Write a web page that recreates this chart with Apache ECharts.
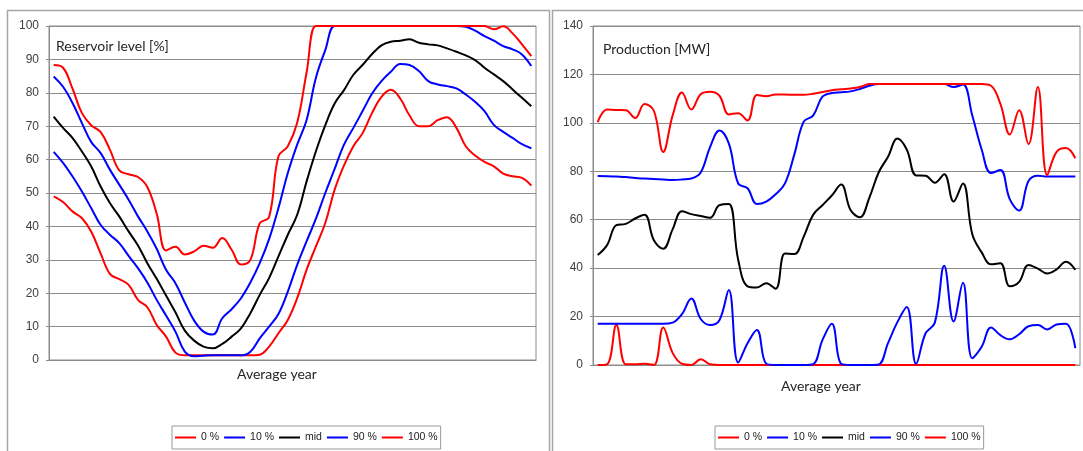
<!DOCTYPE html>
<html>
<head>
<meta charset="utf-8">
<script src="https://cdn.jsdelivr.net/npm/echarts@6/dist/echarts.min.js"></script>
<style>
  html, body { margin: 0; padding: 0; background: #ffffff; }
  #chart { width: 1083px; height: 451px; }
</style>
</head>
<body>
<div id="chart"></div>
<script>
// Weeks of the average year (category axis, labels hidden)
const weeks = Array.from({ length: 52 }, (_, i) => 'W' + (i + 1));

const seriesNames = ['0 %', '10 %', 'mid', '90 %', '100 %'];
const seriesColors = ['#ff0000', '#0000ff', '#000000', '#0000ff', '#ff0000'];

// Reservoir level [%] per week
const level0 = [49, 47.3, 44.5, 42.5, 38.5, 32, 25.8, 24.2, 22.5, 18,
  15.8, 10.5, 7, 2.2, 1.4, 1.4, 1.4, 1.4, 1.4, 1.4,
  1.4, 1.4, 1.6, 4, 8, 12, 18.5, 27, 34, 41,
  51, 58.3, 64, 68, 74, 78.8, 80.9, 78.3, 73.2, 70,
  70, 71.8, 72.7, 69.5, 64, 61.2, 59.3, 58, 55.8, 55,
  54.5, 52.2];
const level10 = [62.3, 59, 55, 50.5, 45.5, 40.5, 37.5, 35, 31.2, 27.5,
  23.2, 18, 13.3, 8.5, 2.5, 1.1, 1.3, 1.4, 1.4, 1.4,
  1.4, 2.5, 6.5, 10, 13.8, 20.5, 28.5, 35.5, 42.3, 50,
  57.2, 64.5, 69.5, 74.6, 79.8, 83.5, 86.3, 88.6, 88.3, 86.5,
  83.5, 82.5, 82, 81.3, 79.5, 77.3, 74.5, 70.4, 68.3, 66.5,
  64.6, 63.4];
const levelMid = [72.9, 69.5, 66.5, 62.5, 58, 52, 47, 43, 38.5, 34.3,
  29, 24.3, 19.3, 14.3, 8.8, 5.8, 4, 3.5, 4.8, 7,
  9.5, 14, 19.5, 24.5, 31, 37.5, 43.5, 53.4, 62.5, 70.3,
  76.8, 80.8, 85.4, 88.4, 91.6, 94.2, 95.3, 95.6, 96, 95,
  94.5, 94.2, 93.3, 92.3, 91.2, 89.8, 87.5, 85.5, 83.5, 81,
  78.5, 76];
const level90 = [84.9, 81.8, 77, 71, 65.3, 62, 57, 52.5, 48, 43,
  38.5, 33.3, 27, 23, 17.2, 11.8, 8.5, 7.6, 12.5, 15.2,
  18.5, 23.2, 29, 36.2, 45.5, 56, 64.5, 71.8, 84.5, 92.8,
  100, 100, 100, 100, 100, 100, 100, 100, 100, 100,
  100, 100, 100, 100, 99.8, 98.6, 97, 95.6, 94, 93,
  91.5, 88];
const level100 = [88.3, 87.5, 81.3, 74, 70.3, 68.3, 63, 56.8, 55.6, 54.8,
  51.8, 43.8, 32.8, 33.9, 31.6, 32.5, 34.2, 33.6, 36.5, 33,
  28.6, 30, 40.9, 42.8, 61, 64, 71, 86, 100, 100,
  100, 100, 100, 100, 100, 100, 100, 100, 100, 100,
  100, 100, 100, 100, 100, 100, 100, 99, 99.9, 97.8,
  94.5, 91];

// Production [MW] per week
const prod0 = [0, 0.3, 16.5, 0.3, 0.3, 0.5, 0, 15.5, 5, 0.5,
  0, 2.4, 0.3, 0, 0, 0, 0, 0, 0, 0,
  0, 0, 0, 0, 0, 0, 0, 0, 0, 0,
  0, 0, 0, 0, 0, 0, 0, 0, 0, 0,
  0, 0, 0, 0, 0, 0, 0, 0, 0, 0,
  0, 0];
const prod10 = [17, 17, 17, 17, 17, 17, 17, 17, 17.5, 21,
  27.5, 19, 16.5, 18.5, 31, 1, 9, 14.5, 0.5, 0,
  0, 0, 0, 0.3, 10.3, 17, 0.5, 0, 0, 0,
  0.2, 9, 17.7, 24, 0.5, 13, 17.5, 41, 18, 34,
  2.8, 7.5, 15.5, 12.3, 10.6, 12.7, 16, 16.5, 14.7, 16.7,
  17, 7];
const prodMid = [45.4, 49.5, 57.8, 58.3, 60.5, 62, 51.5, 48, 56, 63.5,
  62.3, 61.5, 60.8, 66, 66.5, 43.5, 32.5, 32, 33.8, 31.5,
  46, 45.8, 53, 62, 66, 70, 74.5, 64, 61, 69,
  79.5, 86, 93.5, 89, 78.3, 78.2, 75.3, 78.8, 67.5, 75,
  54, 46.5, 41.6, 42, 32.5, 34.3, 41.3, 39.8, 37.8, 39.5,
  42.6, 39.3];
const prod90 = [78.1, 78, 77.8, 77.6, 77.2, 77, 76.8, 76.6, 76.4, 76.6,
  77, 79.5, 90, 96.8, 91.5, 75, 73, 66.5, 67.5, 70.5,
  75, 87, 100.5, 103, 110.8, 112.3, 112.6, 113, 114, 115.3,
  116, 116, 116, 116, 116, 116, 116, 116, 114.8, 115.8,
  103, 89, 79.3, 80.5, 68.5, 63.8, 76, 78.2, 77.8, 77.8,
  77.8, 77.8];
const prod100 = [100.3, 105.5, 105.3, 105.2, 102, 107.8, 105, 88, 103, 112.5,
  105.5, 111.8, 112.8, 111.2, 103.5, 104, 101, 111.5, 111, 111.7,
  111.7, 111.6, 111.6, 112, 112.7, 113.5, 113.9, 114.2, 114.8, 116,
  116, 116, 116, 116, 116, 116, 116, 116, 116, 116,
  116, 116, 115.3, 107.8, 95.2, 105.2, 91.2, 114.8, 78.5, 88,
  89.6, 85.4];

// Value axes
const levelMax = 100, levelStep = 10;
const prodMax = 140, prodStep = 20;

const levelData = [level0, level10, levelMid, level90, level100];
const prodData = [prod0, prod10, prodMid, prod90, prod100];

const gridLine = '#8c8c8c';
const labelFont = '"Liberation Sans", Arial, sans-serif';
const textFont = 'Lato, "Liberation Sans", sans-serif';

function makeSeries(panel, dataSets) {
  return dataSets.map((d, k) => ({
    name: seriesNames[k],
    type: 'line',
    xAxisIndex: panel,
    yAxisIndex: panel,
    data: d,
    smooth: 0.4,
    symbol: 'none',
    showSymbol: false,
    lineStyle: { width: 2, color: seriesColors[k] },
    itemStyle: { color: seriesColors[k] },
    emphasis: { disabled: true }
  }));
}

function makeYAxis(panel, max, step) {
  return {
    type: 'value', gridIndex: panel, min: 0, max: max, interval: step,
    axisLine: { show: true, lineStyle: { color: gridLine, width: 1 } },
    axisTick: { show: true, length: 3, lineStyle: { color: gridLine } },
    axisLabel: { margin: 10, color: '#404040', fontSize: 12, fontFamily: labelFont },
    splitLine: { show: true, lineStyle: { color: gridLine, width: 1 } }
  };
}

function makeXAxis(panel) {
  return {
    type: 'category', gridIndex: panel, data: weeks, boundaryGap: true,
    axisLine: { show: true, lineStyle: { color: gridLine, width: 1 } },
    axisTick: { show: false }, axisLabel: { show: false }, splitLine: { show: false }
  };
}

function makeLegend(left) {
  return {
    data: seriesNames, left: left, top: 426, orient: 'horizontal',
    icon: 'rect', itemWidth: 21, itemHeight: 2, itemGap: 5,
    padding: [6, 3, 6, 3], borderColor: '#999999', borderWidth: 1,
    selectedMode: false,
    textStyle: { fontSize: 10.5, fontFamily: labelFont, color: '#222222' }
  };
}

const titleStyle = { fontFamily: textFont, fontSize: 14, fontWeight: 'normal', color: '#262626' };

const chart = echarts.init(document.getElementById('chart'), null, { renderer: 'canvas' });
chart.setOption({
  animation: false,
  backgroundColor: '#ffffff',
  title: [
    { text: 'Reservoir level [%]', left: 56, top: 39, padding: 0, textStyle: titleStyle },
    { text: 'Production [MW]', left: 603, top: 42, padding: 0, textStyle: titleStyle },
    { text: 'Average year', left: 237, top: 367, padding: 0, textStyle: titleStyle },
    { text: 'Average year', left: 781, top: 379, padding: 0, textStyle: titleStyle }
  ],
  legend: [makeLegend(172), makeLegend(715)],
  grid: [
    { left: 49, top: 26, width: 487, height: 334, show: true, borderColor: gridLine, borderWidth: 1, containLabel: false },
    { left: 593, top: 26, width: 487, height: 339, show: true, borderColor: gridLine, borderWidth: 1, containLabel: false }
  ],
  xAxis: [makeXAxis(0), makeXAxis(1)],
  yAxis: [makeYAxis(0, levelMax, levelStep), makeYAxis(1, prodMax, prodStep)],
  graphic: [
    { type: 'rect', silent: true, shape: { x: 7.5, y: 10.5, width: 542, height: 470 },
      style: { fill: 'none', stroke: '#a6a6a6', lineWidth: 1.5 } },
    { type: 'rect', silent: true, shape: { x: 552.5, y: 10.5, width: 540, height: 470 },
      style: { fill: 'none', stroke: '#a6a6a6', lineWidth: 1.5 } }
  ],
  series: makeSeries(0, levelData).concat(makeSeries(1, prodData))
});
</script>
</body>
</html>
